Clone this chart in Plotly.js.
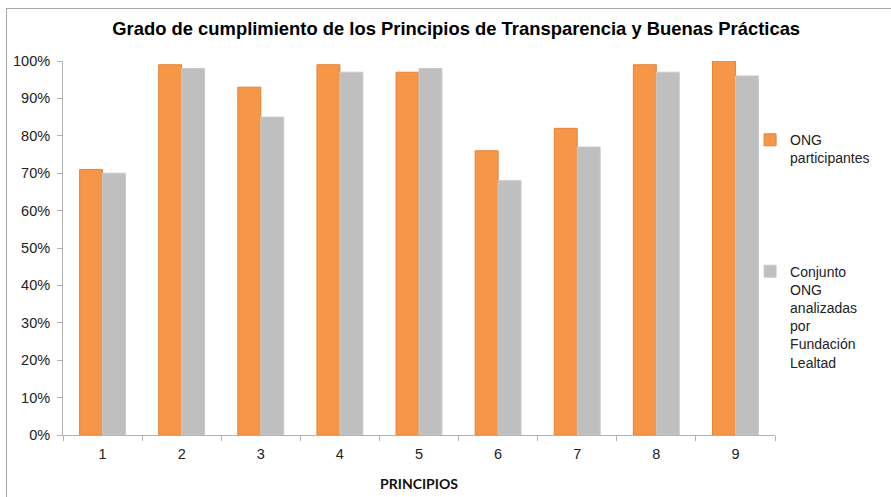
<!DOCTYPE html>
<html>
<head>
<meta charset="utf-8">
<script src="https://cdn.plot.ly/plotly-3.0.1.min.js"></script>
<style>
html,body{margin:0;padding:0;background:#fff;}
#wrap{position:relative;width:891px;height:497px;}
#frame{position:absolute;left:6px;top:8px;width:885px;height:489px;border-top:1.5px solid #a8a8a8;border-left:1.5px solid #a8a8a8;box-sizing:border-box;pointer-events:none;z-index:5;}
#chart{position:absolute;left:0;top:0;width:891px;height:497px;}
</style>
</head>
<body>
<div id="wrap"><div id="chart"></div><div id="frame"></div></div>
<script>
const categories = ['1','2','3','4','5','6','7','8','9'];
const ongParticipantes = [71, 99, 93, 99, 97, 76, 82, 99, 100];
const conjuntoONG = [70, 98, 85, 97, 98, 68, 77, 97, 96];
const yTickStep = 10;

const traces = [
  {
    type: 'bar', x: categories, y: ongParticipantes,
    name: 'ONG<br>participantes', legendgroup: 'a',
    marker: {color: '#F79646', line: {color: '#E2843A', width: 1}},
    hoverinfo: 'y'
  },
  {
    type: 'bar', x: categories, y: conjuntoONG,
    name: 'Conjunto<br>ONG<br>analizadas<br>por<br>Fundación<br>Lealtad', legendgroup: 'b',
    marker: {color: '#BFBFBF', line: {color: '#C9C9C9', width: 1}},
    hoverinfo: 'y'
  }
];

const layout = {
  width: 891, height: 497,
  margin: {l: 63, r: 116, t: 61, b: 62},
  paper_bgcolor: '#fff', plot_bgcolor: '#fff',
  barmode: 'group', bargap: 0.42, bargroupgap: 0,
  font: {family: 'Liberation Sans, Arial, sans-serif', color: '#222'},
  title: {
    text: '<b>Grado de cumplimiento de los Principios de Transparencia y Buenas Prácticas</b>',
    font: {family: 'Liberation Sans, Arial, sans-serif', size: 18.4, color: '#000'},
    xref: 'container', x: 0.512, xanchor: 'center',
    yref: 'container', y: 0.942, yanchor: 'middle'
  },
  xaxis: {
    type: 'category',
    showline: true, linecolor: '#B3B3B3', linewidth: 1,
    ticks: 'outside', tickson: 'boundaries', ticklen: 5, tickcolor: '#B3B3B3',
    showgrid: false, zeroline: false,
    ticklabelstandoff: 6,
    tickfont: {size: 14.5, color: '#222'},
    title: {text: '<b>PRINCIPIOS</b>', font: {family: 'Lato, Open Sans, sans-serif', size: 14, color: '#111'}, standoff: 17}
  },
  yaxis: {
    range: [0, 100], tickmode: 'linear', tick0: 0, dtick: yTickStep, ticksuffix: '%',
    showline: true, linecolor: '#B3B3B3', linewidth: 1,
    ticks: 'outside', ticklen: 5, tickcolor: '#B3B3B3',
    showgrid: false, zeroline: false,
    ticklabelstandoff: 4,
    tickfont: {size: 14.5, color: '#222'}
  },
  showlegend: true,
  legend: {
    x: 0.965, xanchor: 'left', y: 0.831, yanchor: 'top',
    traceorder: 'grouped', tracegroupgap: 92, valign: 'top',
    font: {size: 14, color: '#222'},
    bgcolor: 'rgba(0,0,0,0)'
  }
};

Plotly.newPlot('chart', traces, layout, {displayModeBar: false, staticPlot: true});
</script>
</body>
</html>
